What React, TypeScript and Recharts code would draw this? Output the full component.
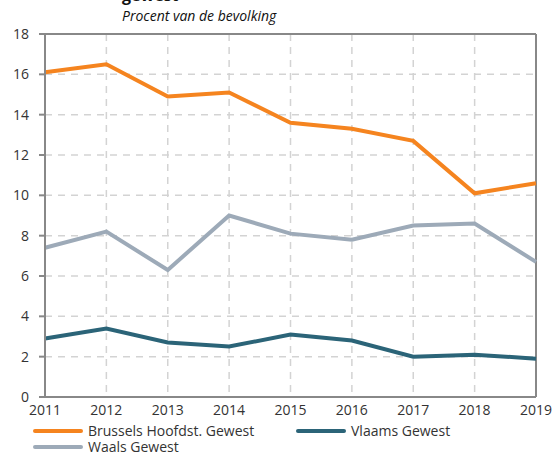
import React from 'react';
import { LineChart, Line, XAxis, YAxis, CartesianGrid, ReferenceLine, Legend } from 'recharts';

const years = ['2011', '2012', '2013', '2014', '2015', '2016', '2017', '2018', '2019'];
const brussels = [16.1, 16.5, 14.9, 15.1, 13.6, 13.3, 12.7, 10.1, 10.6];
const vlaams = [2.9, 3.4, 2.7, 2.5, 3.1, 2.8, 2.0, 2.1, 1.9];
const waals = [7.4, 8.2, 6.3, 9.0, 8.1, 7.8, 8.5, 8.6, 6.7];
const yTicks = [0, 2, 4, 6, 8, 10, 12, 14, 16, 18];

const seriesKeys = ['brussels', 'vlaams', 'waals'];
const seriesNames = ['Brussels Hoofdst. Gewest', 'Vlaams Gewest', 'Waals Gewest'];
const seriesColors = ['#F5841F', '#2B6478', '#9DAAB8'];

const titleText = 'gewest';
const subtitleText = 'Procent van de bevolking';

const data = years.map((y, i) => ({
  year: y,
  brussels: brussels[i],
  vlaams: vlaams[i],
  waals: waals[i],
}));

const FONT = '"Open Sans", sans-serif';
const TEXT = '#333333';
const AXIS = '#888888';

const LegendContent = () => (
  <div style={{ display: 'flex', flexWrap: 'wrap', width: 530, marginLeft: 33, fontFamily: FONT, fontSize: 14, color: TEXT }}>
    {seriesNames.map((n, i) => (
      <div key={n} style={{ width: 263, height: 16, display: 'flex', alignItems: 'center' }}>
        <div style={{ width: 50, height: 4, borderRadius: 2, background: seriesColors[i], marginRight: 5 }} />
        <span style={{ lineHeight: '16px', whiteSpace: 'nowrap' }}>{n}</span>
      </div>
    ))}
  </div>
);

export default function App() {
  return (
    <div style={{ position: 'absolute', left: 0, top: 0, width: 554, height: 453, background: '#fff', overflow: 'hidden' }}>
      <div style={{ position: 'absolute', left: 122, top: -15, fontFamily: FONT, fontSize: 16, fontWeight: 700, color: '#111', lineHeight: '20px' }}>
        {titleText}
      </div>
      <div style={{ position: 'absolute', left: 122, top: 6, fontFamily: FONT, fontSize: 14, fontStyle: 'italic', color: '#111', lineHeight: '20px' }}>
        {subtitleText}
      </div>
      <LineChart width={554} height={453} data={data} margin={{ top: 34, right: 18, left: 0, bottom: 26 }}>
        <CartesianGrid stroke="#D3D3D3" strokeWidth={1.5} strokeDasharray="7 6" />
        <XAxis
          dataKey="year"
          interval={0}
          height={30}
          tickLine={false}
          tickSize={0}
          tickMargin={8}
          axisLine={{ stroke: AXIS, strokeWidth: 2 }}
          tick={{ fill: TEXT, fontSize: 14, fontFamily: FONT }}
        />
        <YAxis
          width={45}
          domain={[0, 18]}
          ticks={yTicks}
          interval={0}
          tickSize={6}
          tickMargin={10}
          axisLine={{ stroke: AXIS, strokeWidth: 2 }}
          tickLine={{ stroke: AXIS, strokeWidth: 2 }}
          tick={{ fill: TEXT, fontSize: 14, fontFamily: FONT }}
        />
        <ReferenceLine y={18} stroke={AXIS} strokeWidth={2} />
        <ReferenceLine x="2019" stroke={AXIS} strokeWidth={2} />
        {seriesKeys.map((k, i) => (
          <Line
            key={k}
            dataKey={k}
            name={seriesNames[i]}
            stroke={seriesColors[i]}
            strokeWidth={4}
            dot={false}
            activeDot={false}
            type="linear"
            isAnimationActive={false}
          />
        ))}
        <Legend
          verticalAlign="middle"
          align="center"
          content={<LegendContent />}
          wrapperStyle={{ top: 423, left: 0, width: 554, height: 32 }}
        />
      </LineChart>
    </div>
  );
}
